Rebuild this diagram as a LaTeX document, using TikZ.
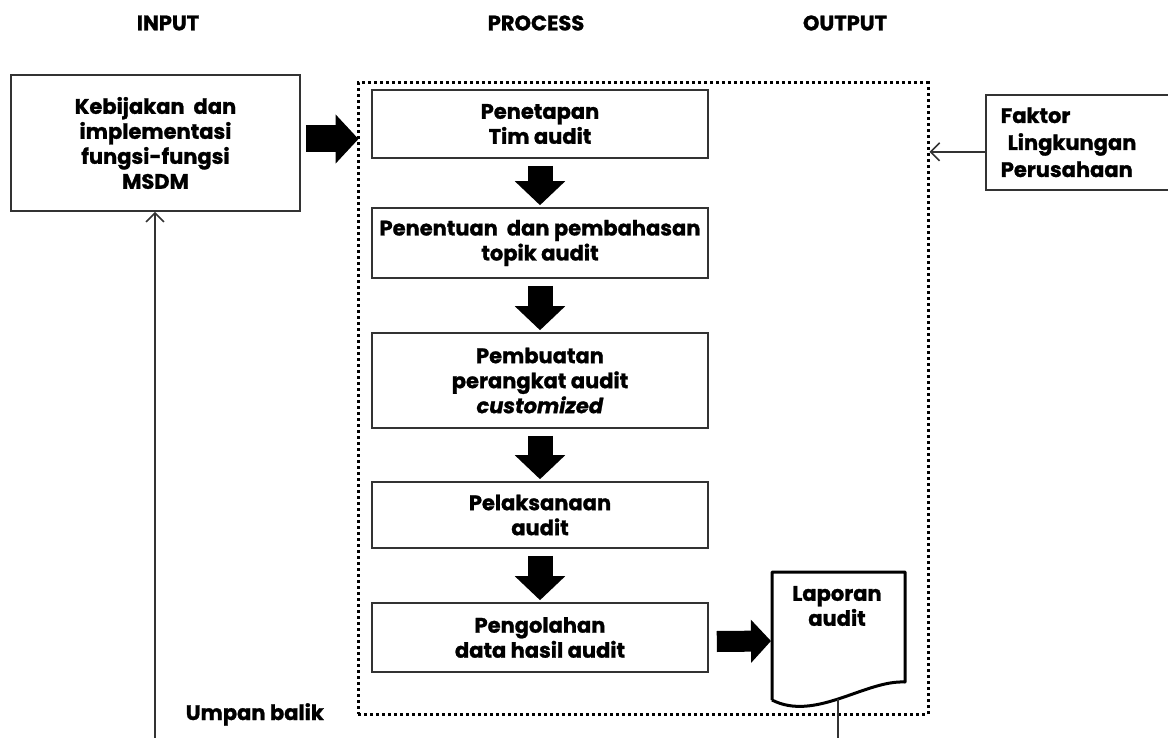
\documentclass[tikz,border=0pt]{standalone}
\usepackage{fontspec}
\setmainfont{Poppins}[BoldFeatures={FakeBold=1.2}, BoldItalicFeatures={FakeBold=1.2}]
\usetikzlibrary{arrows.meta,positioning}
\tikzstyle{kotak} = [draw=black!80, line width=0.8pt, align=center, inner sep=0pt, font=\bfseries\fontsize{10.5}{12.5}\selectfont]
\tikzstyle{langkah} = [kotak, minimum width=168pt]
\tikzstyle{judul} = [font=\bfseries\fontsize{10.5}{12}\selectfont]
\tikzstyle{bingkai} = [draw, line width=1.5pt, dash pattern=on 1.5pt off 1.5pt, minimum width=285pt, minimum height=315.5pt, inner sep=0pt]
\tikzstyle{panah} = [line width=12.5pt, -{Triangle[width=24.5pt,length=12pt]}]
\tikzstyle{tipis} = [draw=black!80, line width=0.8pt, -{Straight Barb[length=4.5pt,width=9pt]}]

\begin{document}
\begin{tikzpicture}[x=0.5pt, y=-0.5pt]
    \clip (0,0) rectangle (1168,738);
    \node[judul] (hin) at (168,23) {INPUT};
    \node[judul] (hproc) at (536,23) {PROCESS};
    \node[judul] (hout) at (845,23) {OUTPUT};
    \node[bingkai] (proses) at (643,398.5) {};
    \node[kotak, minimum width=144.5pt, minimum height=68pt] (input) at (155.5,143) {Kebijakan\ \ dan\\implementasi\\fungsi-fungsi\\MSDM};
    \node[kotak, anchor=north west, minimum height=47.5pt, text width=90pt, align=left, inner xsep=7.5pt, font=\bfseries\fontsize{10.5}{13.5}\selectfont] (faktor) at (985,94) {Faktor\\\ Lingkungan\\Perusahaan};
    \node[langkah, minimum height=34pt] (b1) at (540,124) {Penetapan\\Tim audit};
    \node[langkah, minimum height=35pt] (b2) at (540,243) {Penentuan\ \ dan pembahasan\\topik audit};
    \node[langkah, minimum height=47.5pt] (b3) at (540,380.5) {Pembuatan\\perangkat audit\\\textit{customized}};
    \node[langkah, minimum height=33pt] (b4) at (540,515) {Pelaksanaan\\audit};
    \node[langkah, minimum height=34.5pt] (b5) at (540,637.5) {Pengolahan\\data hasil audit};
    \draw[line width=1.5pt, line join=round] (772,700) -- (772,572) -- (905,572) -- (905,682) .. controls (865,680) and (815,722) .. (772,700);
    \node[kotak, draw=none] (lap) at (837,606) {Laporan\\audit};
    \coordinate (lapW) at (771,641);
    \coordinate (lapS) at (838,699);
    \coordinate (bawah) at (838,738);
    \coordinate (fb) at (155,738);
    \node[kotak, draw=none, anchor=base west] (umpan) at (185,720) {Umpan balik};
    \draw[line width=13.5pt, -{Triangle[width=24pt,length=11.5pt]}] ([xshift=2.5pt,yshift=2pt]input.east) -- ([xshift=1pt,yshift=2pt]proses.west |- input.east);
    \draw[panah] ([yshift=-3.5pt]b1.south) -- ([yshift=1pt]b2.north);
    \draw[panah] ([yshift=-3.5pt]b2.south) -- ([yshift=1pt]b3.north);
    \draw[panah] ([yshift=-3.5pt]b3.south) -- ([yshift=1pt]b4.north);
    \draw[panah] ([yshift=-3.5pt]b4.south) -- ([yshift=1pt]b5.north);
    \draw[line width=10.5pt, -{Triangle[width=21pt,length=10pt]}] ([xshift=4pt,yshift=-2pt]b5.east) -- (lapW);
    \draw[tipis] ([yshift=-4.75pt]faktor.west) -- ([yshift=-4.75pt]proses.east |- faktor.west);
    \draw[tipis] (fb) -- (fb |- input.south);
    \draw[draw=black!80, line width=0.8pt] (lapS) -- (bawah);
\end{tikzpicture}
\end{document}
